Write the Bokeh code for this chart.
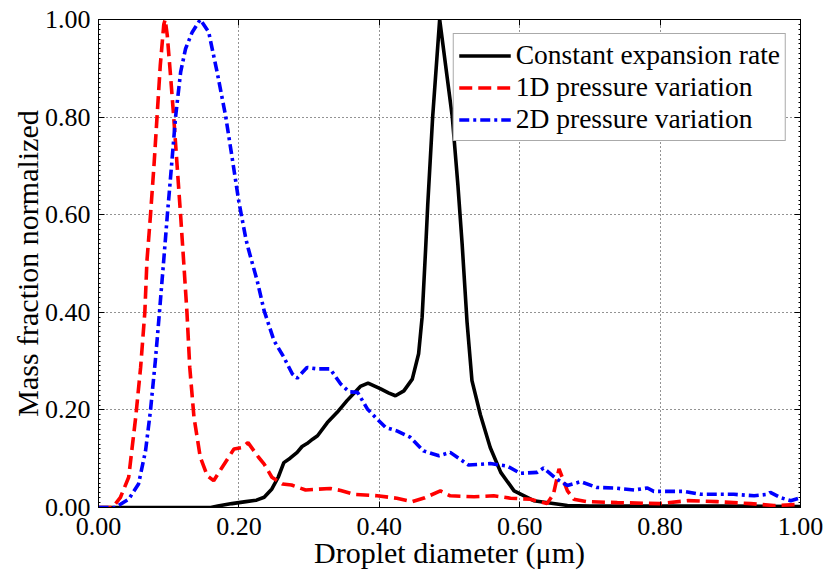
from bokeh.plotting import figure
from bokeh.models import Range1d, LinearAxis, FixedTicker
from bokeh.embed import file_html
from bokeh.resources import INLINE

# ---- data ----
const_x = [0.0, 0.01, 0.05, 0.10, 0.16, 0.17, 0.19, 0.21, 0.225, 0.236, 0.247, 0.256,
           0.264, 0.273, 0.283, 0.290, 0.297, 0.305, 0.312, 0.326, 0.340, 0.354, 0.373,
           0.384, 0.402, 0.413, 0.423, 0.435, 0.447, 0.456, 0.461, 0.466, 0.469, 0.476,
           0.486, 0.504, 0.512, 0.518, 0.525, 0.532, 0.544, 0.558, 0.573, 0.592,
           0.620, 0.668, 0.70, 0.80, 0.90, 1.00]
const_y = [0.0, 0.0, 0.0, 0.0, 0.0, 0.003, 0.008, 0.012, 0.015, 0.021, 0.038, 0.062,
           0.092, 0.101, 0.113, 0.125, 0.131, 0.140, 0.147, 0.174, 0.195, 0.219, 0.248,
           0.255, 0.243, 0.235, 0.229, 0.239, 0.263, 0.315, 0.39, 0.53, 0.62, 0.80,
           1.0, 0.80, 0.66, 0.54, 0.38, 0.26, 0.19, 0.123, 0.072, 0.034,
           0.014, 0.004, 0.003, 0.003, 0.003, 0.002]

p1d_x = [0.0, 0.02, 0.031, 0.043, 0.053, 0.060, 0.066, 0.069, 0.074, 0.079, 0.0835,
         0.088, 0.093, 0.095, 0.098, 0.1026, 0.107, 0.112, 0.117, 0.1215, 0.126, 0.130,
         0.136, 0.145, 0.155, 0.164, 0.176, 0.193, 0.205, 0.213, 0.228, 0.236, 0.247,
         0.262, 0.275, 0.295, 0.33, 0.345, 0.364, 0.397, 0.425, 0.447, 0.465, 0.487,
         0.501, 0.535, 0.563, 0.587, 0.615, 0.639, 0.648, 0.656, 0.668, 0.677, 0.696,
         0.739, 0.80, 0.839, 0.881, 0.929, 0.962, 0.995, 1.0]
p1d_y = [0.0, 0.0, 0.02, 0.062, 0.185, 0.287, 0.40, 0.505, 0.598, 0.70, 0.803,
         0.906, 0.99, 1.0, 0.967, 0.885, 0.803, 0.70, 0.598, 0.50, 0.40, 0.287,
         0.185, 0.103, 0.065, 0.055, 0.082, 0.12, 0.123, 0.133, 0.103, 0.089, 0.062,
         0.048, 0.046, 0.036, 0.039, 0.035, 0.027, 0.024, 0.019, 0.012, 0.02, 0.034,
         0.024, 0.022, 0.024, 0.019, 0.017, 0.008, 0.027, 0.079, 0.034, 0.017, 0.012,
         0.010, 0.008, 0.014, 0.012, 0.008, 0.004, 0.006, 0.006]

p2d_x = [0.0, 0.024, 0.043, 0.057, 0.067, 0.074, 0.081, 0.087, 0.093, 0.098, 0.104,
         0.110, 0.117, 0.124, 0.1335, 0.145, 0.157, 0.169, 0.181, 0.19, 0.2, 0.21,
         0.214, 0.226, 0.236, 0.25, 0.264, 0.276, 0.283, 0.297, 0.312, 0.33, 0.345,
         0.357, 0.369, 0.383, 0.397, 0.409, 0.425, 0.444, 0.463, 0.485, 0.501, 0.527,
         0.558, 0.582, 0.601, 0.625, 0.634, 0.653, 0.668, 0.687, 0.71, 0.734, 0.763,
         0.782, 0.791, 0.834, 0.858, 0.905, 0.934, 0.953, 0.957, 0.972, 0.986, 1.0]
p2d_y = [0.0, 0.0, 0.017, 0.048, 0.116, 0.198, 0.301, 0.403, 0.508, 0.598, 0.70,
         0.803, 0.892, 0.94, 0.974, 1.0, 0.974, 0.892, 0.803, 0.72, 0.626, 0.55,
         0.527, 0.465, 0.403, 0.342, 0.308, 0.274, 0.265, 0.287, 0.284, 0.284, 0.253,
         0.237, 0.236, 0.202, 0.181, 0.164, 0.157, 0.144, 0.116, 0.106, 0.113, 0.087,
         0.09, 0.085, 0.07, 0.072, 0.081, 0.058, 0.045, 0.053, 0.041, 0.04, 0.036,
         0.04, 0.033, 0.033, 0.027, 0.027, 0.024, 0.027, 0.031, 0.02, 0.014, 0.02]

series_labels = ["Constant expansion rate", "1D pressure variation", "2D pressure variation"]
tick_values = [0.0, 0.2, 0.4, 0.6, 0.8, 1.0]
tick_labels = {0.0: "0.00", 0.2: "0.20", 0.4: "0.40", 0.6: "0.60", 0.8: "0.80", 1.0: "1.00"}
x_title = "Droplet diameter (\u03bcm)"
y_title = "Mass fraction normalized"

FONT = "Liberation Serif"

p = figure(width=824, height=577, x_range=Range1d(0, 1), y_range=Range1d(0, 1),
           output_backend="svg", toolbar_location=None,
           min_border_left=98, min_border_right=24, min_border_top=19, min_border_bottom=70,
           x_axis_label=x_title, y_axis_label=y_title)

p.background_fill_color = "white"
p.border_fill_color = "white"
p.outline_line_color = "black"
p.outline_line_width = 1

minor_vals = [i / 100 for i in range(101)]
xt = FixedTicker(ticks=tick_values, minor_ticks=[])
yt = FixedTicker(ticks=tick_values, minor_ticks=minor_vals)

def style_axis(ax, ticker, labels=True):
    ax.ticker = ticker
    ax.major_tick_in = 6
    ax.major_tick_out = 0
    ax.minor_tick_in = 2
    ax.minor_tick_out = 0
    ax.major_tick_line_color = "black"
    ax.minor_tick_line_color = "black"
    ax.axis_line_color = "black"
    if labels:
        ax.major_label_overrides = tick_labels
        ax.major_label_text_font = FONT
        ax.major_label_text_font_size = "26px"
        ax.major_label_text_color = "black"
        ax.axis_label_text_font = FONT
        ax.axis_label_text_font_size = "30px"
        ax.axis_label_text_font_style = "normal"
        ax.axis_label_text_color = "black"
    else:
        ax.major_label_text_font_size = "0px"
        ax.major_label_text_alpha = 0

style_axis(p.xaxis[0], xt)
style_axis(p.yaxis[0], yt)
p.xaxis[0].major_label_standoff = 10
p.xaxis[0].axis_label_standoff = -2
p.yaxis[0].major_label_standoff = 8
p.yaxis[0].axis_label_standoff = -2

top_ax = LinearAxis()
style_axis(top_ax, FixedTicker(ticks=tick_values, minor_ticks=[]), labels=False)
right_ax = LinearAxis()
style_axis(right_ax, FixedTicker(ticks=tick_values, minor_ticks=minor_vals), labels=False)
p.add_layout(top_ax, "above")
p.add_layout(right_ax, "right")

p.xgrid.ticker = xt
p.ygrid.ticker = yt
for g in (p.xgrid[0], p.ygrid[0]):
    g.grid_line_color = "black"
    g.grid_line_dash = "1 3"
    g.grid_line_width = 1
    g.grid_line_alpha = 0.85

p.line(const_x, const_y, line_color="black", line_width=3.6, legend_label=series_labels[0])
p.line(p1d_x, p1d_y, line_color="#ff0000", line_width=3.6, line_dash="13 6",
       legend_label=series_labels[1])
p.line(p2d_x, p2d_y, line_color="#0000ff", line_width=3.6, line_dash="10 4 3 4",
       legend_label=series_labels[2])

lg = p.legend[0]
lg.location = "top_right"
lg.margin = 14
lg.padding = 5
lg.spacing = 0
lg.glyph_width = 52
lg.glyph_height = 29
lg.label_height = 29
lg.label_standoff = 5
lg.label_text_font = FONT
lg.label_text_font_size = "27.5px"
lg.label_text_color = "black"
lg.border_line_color = "#555555"
lg.border_line_width = 1
lg.background_fill_color = "white"
lg.background_fill_alpha = 1.0

open("out.html", "w").write(file_html(p, INLINE))
